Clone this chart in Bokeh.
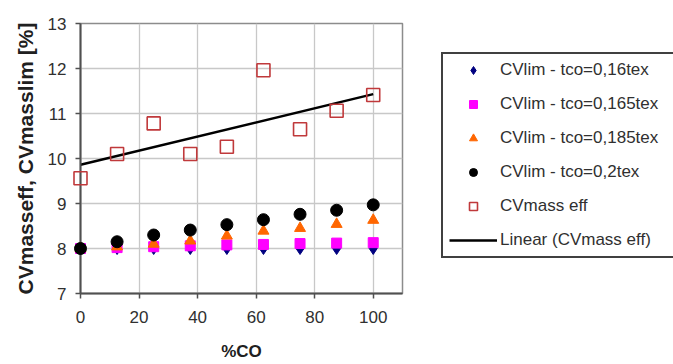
from bokeh.plotting import figure
from bokeh.layouts import row
from bokeh.models import Legend, LegendItem, FixedTicker, Range1d
from bokeh.embed import file_html
from bokeh.resources import INLINE

# Data
co = [0, 12.5, 25, 37.5, 50, 62.5, 75, 87.5, 100]
cvlim_016 = [8.0, 8.0, 8.0, 8.0, 8.0, 8.0, 8.0, 8.0, 8.0]
cvlim_0165 = [8.0, 8.02, 8.04, 8.06, 8.08, 8.09, 8.11, 8.12, 8.13]
cvlim_0185 = [8.0, 8.04, 8.1, 8.17, 8.28, 8.39, 8.45, 8.54, 8.63]
cvlim_02 = [8.0, 8.15, 8.3, 8.41, 8.53, 8.64, 8.76, 8.85, 8.97]
cvmass_eff = [9.56, 10.1, 10.78, 10.1, 10.26, 11.96, 10.65, 11.06, 11.41]
trend_x = [0, 100]
trend_y = [9.86, 11.43]

x_ticks = [0, 20, 40, 60, 80, 100]
y_ticks = [7, 8, 9, 10, 11, 12, 13]

labels = ["CVlim - tco=0,16tex", "CVlim - tco=0,165tex", "CVlim - tco=0,185tex",
          "CVlim - tco=0,2tex", "CVmass eff", "Linear (CVmass eff)"]

FONT = "Liberation Sans"

STYLES = [
    dict(marker="diamond", size=12, fill_color="#000080", line_color="#000080"),
    dict(marker="square", size=10, fill_color="#ff00ff", line_color="#ff00ff"),
    dict(marker="triangle", size=11, fill_color="#ff6600", line_color="#ff6600"),
    dict(marker="circle", size=12, fill_color="black", line_color="black"),
    dict(marker="square", size=13, fill_color=None, line_color="#c0393b", line_width=1.6),
]
SERIES = [cvlim_016, cvlim_0165, cvlim_0185, cvlim_02, cvmass_eff]


def draw(fig, level="overlay"):
    rl = fig.line(trend_x, trend_y, line_color="black", line_width=2.5)
    rs = [fig.scatter(co, ys, level=level, **st) for ys, st in zip(SERIES, STYLES)]
    return rs + [rl]


p = figure(width=404, height=364, output_backend="svg", toolbar_location=None,
           x_range=Range1d(0, 110), y_range=Range1d(7, 13),
           min_border_left=80, min_border_right=2, min_border_top=23, min_border_bottom=71)
p.background_fill_color = "white"
p.border_fill_color = "white"
p.outline_line_color = "#8c8c8c"
p.outline_line_width = 1.5

p.xgrid.ticker = FixedTicker(ticks=x_ticks)
p.ygrid.ticker = FixedTicker(ticks=y_ticks)
p.xaxis.ticker = FixedTicker(ticks=x_ticks)
p.yaxis.ticker = FixedTicker(ticks=y_ticks)
for g in (p.xgrid, p.ygrid):
    g.grid_line_color = "#c8c8c8"
    g.grid_line_width = 1.3

for ax in (p.xaxis, p.yaxis):
    ax.axis_line_color = "#505050"
    ax.axis_line_width = 2
    ax.major_tick_line_color = "#505050"
    ax.major_tick_line_width = 1.5
    ax.major_tick_out = 5
    ax.major_tick_in = 0
    ax.minor_tick_line_color = None
    ax.major_label_text_font = FONT
    ax.major_label_text_font_size = "17px"
    ax.major_label_text_color = "#303030"
    ax.axis_label_text_font = FONT
    ax.axis_label_text_font_style = "bold"
    ax.axis_label_text_color = "#202020"

p.xaxis.axis_label = "%CO"
p.yaxis.axis_label = "CVmasseff, CVmasslim [%]"
p.xaxis.axis_label_text_font_size = "17px"
p.yaxis.axis_label_text_font_size = "21px"
p.xaxis.major_label_standoff = 12
p.yaxis.major_label_standoff = 9
p.xaxis.axis_label_standoff = 16
p.yaxis.axis_label_standoff = 8

draw(p)

# Legend panel: a second figure whose ranges keep the proxy glyphs out of view
q = figure(width=269, height=364, output_backend="svg", toolbar_location=None,
           x_range=Range1d(1000, 1001), y_range=Range1d(1000, 1001),
           min_border=0, x_axis_location=None, y_axis_location=None)
q.grid.visible = False
q.outline_line_color = None
q.background_fill_color = "white"
q.border_fill_color = "white"
proxies = draw(q, level="glyph")

legend = Legend(items=[LegendItem(label=lab, renderers=[r]) for lab, r in zip(labels, proxies)],
                location=(37, 35))
legend.label_text_font = FONT
legend.label_text_font_size = "17px"
legend.label_text_color = "#303030"
legend.glyph_width = 48
legend.glyph_height = 20
legend.label_height = 20
legend.label_width = 168
legend.spacing = 14
legend.padding = 6
legend.margin = 0
legend.label_standoff = 3
legend.border_line_color = "#404040"
legend.border_line_alpha = 1
legend.border_line_width = 2
legend.background_fill_alpha = 1
q.add_layout(legend, "center")

layout = row(p, q, spacing=0)
open("out.html", "w").write(file_html(layout, INLINE))
